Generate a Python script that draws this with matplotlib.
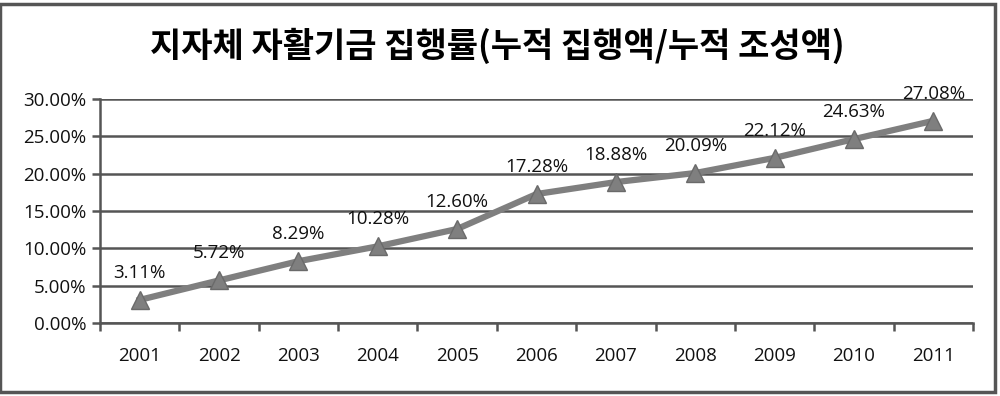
import matplotlib.pyplot as plt
from matplotlib.patches import Rectangle
from matplotlib.ticker import FixedLocator, PercentFormatter

plt.rcParams['font.family'] = ['Noto Sans CJK KR', 'DejaVu Sans']

# data
years = ['2001', '2002', '2003', '2004', '2005', '2006', '2007', '2008', '2009', '2010', '2011']
rate = [3.11, 5.72, 8.29, 10.28, 12.60, 17.28, 18.88, 20.09, 22.12, 24.63, 27.08]
title = '지자체 자활기금 집행률(누적 집행액/누적 조성액)'

fig = plt.figure(figsize=(10, 3.96), dpi=100)
ax = fig.add_axes([0.1, 0.184, 0.873, 0.566])

x = list(range(len(years)))
ax.plot(x, rate, color='#7f7f7f', lw=4.5, marker='^', markersize=13,
        markerfacecolor='#7f7f7f', markeredgecolor='#6a6a6a', zorder=3)

for xi, v in zip(x, rate):
    ax.annotate(f'{v:.2f}%', (xi, v), xytext=(0, 19.5), textcoords='offset points',
                ha='center', va='center', fontsize=13.5, family='Open Sans', color='#111111')

ax.set_xlim(-0.5, len(years) - 0.5)
ax.set_ylim(0, 30)
ax.set_yticks(range(0, 31, 5))
ax.yaxis.set_major_formatter(PercentFormatter(decimals=2))
ax.grid(axis='y', color='#555555', lw=1.8)
ax.set_axisbelow(True)

# category ticks sit between the years, labels at the centres
ax.xaxis.set_major_locator(FixedLocator([i + 0.5 for i in range(-1, len(years))]))
ax.xaxis.set_minor_locator(FixedLocator(x))
ax.set_xticklabels([], minor=False)
ax.set_xticklabels(years, minor=True)
ax.tick_params(axis='x', which='major', length=6, width=1.8, color='#555555', direction='out')
ax.tick_params(axis='x', which='minor', length=0, pad=17)
ax.tick_params(axis='y', length=6, width=1.8, color='#555555', pad=4)
for lab in ax.get_xticklabels(minor=True) + ax.get_yticklabels():
    lab.set_family('Open Sans')
    lab.set_fontsize(13.5)
    lab.set_color('#111111')

for s in ['top', 'right']:
    ax.spines[s].set_visible(False)
for s in ['left', 'bottom']:
    ax.spines[s].set_color('#555555')
    ax.spines[s].set_linewidth(1.8)

fig.text(0.497, 0.885, title, ha='center', va='center', fontsize=24.5, fontweight='bold')

# outer frame
fig.patches.append(Rectangle((0.0, 0.01), 0.995, 0.98, transform=fig.transFigure,
                             fill=False, ec='#555555', lw=2.5))

fig.savefig('out.png', dpi=100)
